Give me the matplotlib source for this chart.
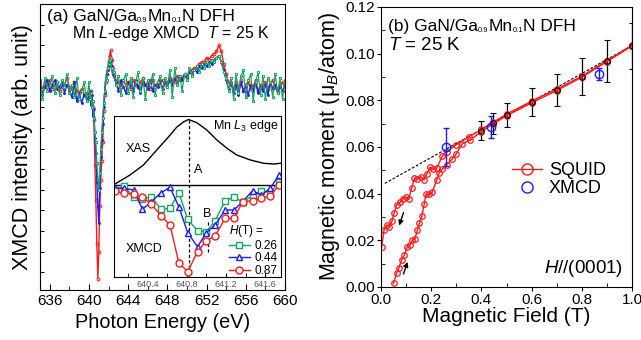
import numpy as np
import matplotlib
matplotlib.use('Agg')
import matplotlib.pyplot as plt
from matplotlib.ticker import MultipleLocator, FormatStrFormatter
from matplotlib.lines import Line2D

plt.rcParams['font.family'] = ['Liberation Sans', 'DejaVu Sans']
plt.rcParams['mathtext.fontset'] = 'custom'
plt.rcParams['mathtext.rm'] = 'Liberation Sans'
plt.rcParams['mathtext.it'] = 'Liberation Sans:italic'
plt.rcParams['mathtext.bf'] = 'Liberation Sans:bold'

# ---------------- data: panel (a) main XMCD spectra ----------------
energy = np.round(np.concatenate([np.arange(635.0, 640.0, 0.25),
                                  np.arange(640.0, 642.45, 0.1),
                                  np.arange(642.5, 660.01, 0.25)]), 2)
red_pre = [0.1, -0.1, 0.2, 0.0, 0.3, -0.1, 0.1, 0.2, -0.2, 0.0, 0.1, 0.4, 0.0, -0.1, 0.2, -0.2, -0.3, -0.1, -0.4, -0.3]
blue_pre = [0.2, -0.4, 0.0, 0.3, -0.2, 0.1, 0.3, -0.1, 0.0, 0.2, -0.3, 0.1, -0.2, -0.5, 0.2, -0.7, -0.3, -0.8, -0.4, -0.6]
green_pre = [0.3, -0.6, 0.4, -0.2, 0.1, 0.5, -0.3, 0.2, -0.4, 0.3, 0.0, 0.6, -0.3, 0.1, -0.5, 0.4, -0.6, -0.2, 0.2, -0.7]
red_edge = [-0.3, -0.5, -0.2, -0.8, -1.0, -1.6, -3.8, -5.5, -7.6, -9.3, -8.0, -5.8, -4.5, -3.6, -2.7, -1.2, -0.4, 0.2, 0.6, 0.9, 1.2, 1.5, 1.75, 1.3, 0.9]
blue_edge = [-0.5, -0.2, -0.9, -0.4, -1.4, -1.1, -2.5, -3.2, -4.6, -5.8, -6.6, -4.9, -3.4, -2.6, -1.8, -1.0, -0.3, 0.3, 0.6, 0.8, 1.0, 1.2, 1.3, 1.0, 0.6]
green_edge = [0.2, -0.6, -0.3, -1.0, -0.7, -1.5, -2.2, -2.7, -3.7, -4.4, -5.0, -4.2, -3.0, -2.2, -1.5, -0.8, -0.2, 0.4, 0.3, 0.9, 1.1, 1.3, 1.4, 0.9, 0.7]
red_post = [0.6, 0.3, 0.2, 0.0, 0.3, 0.1, 0.2, -0.1, 0.3, 0.1,
            0.0, 0.2, 0.4, 0.1, 0.2, -0.1, 0.3, 0.0, 0.2, 0.1,
            0.3, 0.1, 0.2, 0.4, 0.3, 0.2, 0.5, 0.3, 0.4, 0.6,
            0.5, 0.7, 0.8, 0.9, 0.9, 1.1, 1.2, 1.2, 1.4, 1.3,
            1.5, 1.6, 1.7, 2.0, 1.7, 1.1, 0.6, 0.2, 0.1, -0.1,
            0.2, 0.0, 0.3, -0.2, 0.1, 0.2, -0.1, 0.0, 0.3, -0.2,
            0.1, 0.0, 0.2, -0.1, 0.1, 0.3, 0.0, -0.2, 0.1, 0.2,
            0.0]
blue_post = [0.5, 0.2, -0.2, 0.3, 0.0, -0.3, 0.2, 0.1, -0.2, 0.3,
             0.0, -0.3, 0.2, 0.1, -0.1, 0.3, -0.2, 0.1, 0.0, 0.3,
             -0.1, 0.2, 0.0, 0.3, 0.1, 0.4, 0.2, 0.5, 0.3, 0.6,
             0.4, 0.7, 0.6, 0.8, 0.7, 1.0, 0.9, 1.1, 1.0, 1.2,
             1.1, 1.3, 1.4, 1.5, 1.2, 0.8, 0.3, -0.1, 0.2, -0.3,
             0.1, -0.4, 0.2, -0.2, 0.0, -0.4, 0.1, -0.2, 0.2, -0.3,
             0.0, -0.2, 0.1, -0.4, 0.2, -0.1, 0.1, -0.3, 0.0, -0.2,
             0.1]
green_post = [0.7, 0.1, 0.5, -0.4, 0.3, 0.6, -0.3, 0.4, -0.5, 0.2,
              0.7, -0.2, 0.4, -0.6, 0.3, 0.1, 0.6, -0.4, 0.2, 0.5,
              -0.3, 0.4, 0.0, 0.8, -0.5, 0.9, 0.1, 0.5, -0.2, 0.6,
              0.3, 0.9, 0.5, 0.8, 1.0, 0.7, 1.1, 0.9, 1.2, 1.0,
              1.3, 1.2, 1.4, 1.5, 1.2, 0.7, 0.4, -0.2, 0.4, -0.6,
              0.6, -0.3, 0.5, 0.8, -0.5, 0.3, 0.6, -0.7, 0.2, 0.7,
              -0.4, 0.5, -0.6, 0.4, 0.2, -0.5, 0.6, -0.3, 0.4, -0.6,
              0.3]
xmcd_087 = np.array(red_pre + red_edge + red_post)
xmcd_044 = np.array(blue_pre + blue_edge + blue_post)
xmcd_026 = np.array(green_pre + green_edge + green_post)

# ---------------- data: inset ----------------
xas_e = [640.07, 640.223, 640.36, 640.495, 640.614, 640.70, 640.767, 640.818, 640.903,
         641.005, 641.107, 641.21, 641.31, 641.448, 641.584, 641.686, 641.754]
xas_i = [1, 10, 20, 35, 48, 58, 63, 65.5, 62.3, 55, 45, 36.7, 30, 25, 21.7, 21, 21.7]
ins_e = [640.07, 640.16, 640.26, 640.35, 640.44, 640.54, 640.63, 640.72, 640.81, 640.91,
         641.00, 641.09, 641.19, 641.28, 641.37, 641.47, 641.56, 641.65, 641.74]
ins_026 = [-5, -1, -12.3, -14.3, -11.7, -24.3, -23.3, -7.7, -34.3, -45.7,
           -46.7, -36, -15.7, -12.3, -16.7, -11, -5.7, -7.7, 3.3]
ins_044 = [-3.3, -3.3, -5, -24.3, -16.7, -7.7, -2.3, -21.7, -47.7, -61.7,
           -47.7, -40, -25, -25, -16.7, -5.7, -10, -3.3, 10]
ins_087 = [-5.7, -8.3, -9, -12.3, -19, -31, -40, -77.7, -86.7, -66.7,
           -55.7, -51, -33.3, -33.3, -16.7, -15.7, -13.3, -11, 0]
field_labels = ['0.26', '0.44', '0.87']
peak_A = 640.82
peak_B = 641.02

# ---------------- data: panel (b) ----------------
h_down = [0.003, 0.012, 0.023, 0.033, 0.044, 0.052, 0.062, 0.076, 0.086, 0.100, 0.110,
          0.122, 0.133, 0.145, 0.158, 0.172, 0.182, 0.195, 0.206, 0.222, 0.244, 0.262,
          0.300, 0.350, 0.400, 0.447, 0.500, 0.600, 0.700, 0.800, 0.900, 1.000]
m_down = [0.0173, 0.0244, 0.0266, 0.0259, 0.0283, 0.0316, 0.0351, 0.0363, 0.0379, 0.0386, 0.0376,
          0.0423, 0.0466, 0.0463, 0.0473, 0.0459, 0.0484, 0.0513, 0.0504, 0.0509, 0.0561, 0.0578,
          0.0610, 0.0644, 0.0675, 0.0706, 0.0741, 0.0796, 0.0848, 0.0904, 0.0970, 0.1036]
h_up = [0.050, 0.062, 0.072, 0.082, 0.093, 0.105, 0.116, 0.125, 0.135, 0.145, 0.153,
        0.163, 0.172, 0.179, 0.193, 0.204, 0.222, 0.232, 0.244, 0.262, 0.282, 0.300,
        0.324, 0.355, 0.400, 0.447, 0.500, 0.600, 0.700, 0.800, 0.900, 1.000]
m_up = [0.0016, 0.0059, 0.0083, 0.0116, 0.0137, 0.0173, 0.0180, 0.0201, 0.0206, 0.0244, 0.0273,
        0.0304, 0.0354, 0.0397, 0.0397, 0.0406, 0.0459, 0.0490, 0.0505, 0.0525, 0.0547, 0.0571,
        0.0614, 0.0630, 0.0666, 0.0699, 0.0734, 0.0789, 0.0842, 0.0899, 0.0966, 0.1033]
h_err = [0.4, 0.447, 0.5, 0.6, 0.7, 0.8, 0.9, 1.0]
m_err = [0.0669, 0.0702, 0.0737, 0.0792, 0.0844, 0.0901, 0.0967, 0.1033]
e_err = [0.0041, 0.0045, 0.0050, 0.0060, 0.0070, 0.0080, 0.0090, 0.0100]
h_xmcd = [0.26, 0.44, 0.87]
m_xmcd = [0.0600, 0.0685, 0.0913]
e_xmcd = [0.0083, 0.0048, 0.0025]
fit_h = [0.015, 1.0]
fit_m = [0.0444, 0.1035]

RED = '#ff1a1a'
BLUE = '#1a1aff'
GREEN = '#12a85c'

fig = plt.figure(figsize=(6.41, 3.40), dpi=100)


def chain_text(ax, x, y, parts):
    t = ax.text(x, y, parts[0][0], transform=ax.transAxes, fontsize=parts[0][1],
                va='baseline', ha='left')
    prev = t
    for s, fs in parts[1:]:
        prev = ax.annotate(s, xy=(1, 0), xycoords=prev, fontsize=fs,
                           va='bottom', ha='left')
    return t


# ================= panel (a) =================
axa = fig.add_axes([40 / 641, 1 - 290 / 340, 245 / 641, 286 / 340])
axa.plot(energy, xmcd_087, '-', color=RED, lw=1.0, marker='o', ms=2.0, mfc='none', mew=0.7)
axa.plot(energy, xmcd_044, '-', color=BLUE, lw=1.0, marker='o', ms=1.4, mew=0.6)
axa.plot(energy, xmcd_026, '-', color=GREEN, lw=0.9, marker='s', ms=2.0, mfc='white', mew=0.7)
axa.set_xlim(635, 660)
axa.set_ylim(-9.85, 4.0)
axa.xaxis.set_major_locator(MultipleLocator(4))
axa.xaxis.set_minor_locator(MultipleLocator(2))
axa.yaxis.set_major_locator(MultipleLocator(1))
axa.tick_params(axis='both', which='both', direction='in', labelsize=11)
axa.tick_params(axis='x', which='major', length=4, pad=3)
axa.tick_params(axis='x', which='minor', length=3)
axa.tick_params(axis='y', which='major', length=3, labelleft=False)
axa.set_xlabel('Photon Energy (eV)', fontsize=14.3)
axa.set_ylabel('XMCD intensity (arb. unit)', fontsize=15.5)
axa.yaxis.set_label_coords(-0.03, 0.5)
axa.xaxis.set_label_coords(0.5, -0.079)
chain_text(axa, 0.029, 0.942, [('(a) GaN/Ga', 12.5), ('0.9', 5.5), ('Mn', 12.5), ('0.1', 5.5), ('N DFH', 12.5)])
axa.text(0.13, 0.88, r'Mn $L$-edge XMCD  $T$ = 25 K', transform=axa.transAxes,
         fontsize=11.4, va='baseline', ha='left')

# ---------------- inset ----------------
axi = fig.add_axes([114 / 641, 1 - 277 / 340, 167 / 641, 161 / 340])
axi.set_xlim(640.06, 641.76)
axi.set_ylim(-92, 69)
axi.axhline(0, color='k', lw=1.0)
axi.plot(xas_e, xas_i, '-', color='k', lw=1.0)
axi.plot([peak_A, peak_A], [xas_i[7], -92], color='k', lw=0.9, ls=(0, (2.5, 1.8)))
axi.plot([peak_B, peak_B], [-37, -67], color='k', lw=0.9, ls=(0, (2.5, 1.8)))
l1, = axi.plot(ins_e, ins_026, '-', color=GREEN, lw=1.0, marker='s', ms=5, mfc='white', mew=1.0)
l2, = axi.plot(ins_e, ins_044, '-', color=BLUE, lw=1.0, marker='^', ms=5, mfc='white', mew=1.0)
l3, = axi.plot(ins_e, ins_087, '-', color=RED, lw=1.0, marker='o', ms=5, mfc='white', mew=1.0)
axi.set_yticks([])
axi.xaxis.set_minor_locator(MultipleLocator(0.2))
axi.set_xticks([640.4, 640.8, 641.2, 641.6])
axi.set_xticklabels(['640.4', '640.8', '641.2', '641.6'])
axi.tick_params(axis='x', which='both', direction='in', labelsize=6.5, labelcolor='#555555', pad=2, length=3)
axi.text(640.31, 35.7, 'XAS', fontsize=9, ha='center', va='center')
axi.text(641.07, 59.3, r'Mn $L_3$ edge', fontsize=9, ha='left', va='center')
axi.text(640.92, 15, 'A', fontsize=9, ha='center', va='center')
axi.text(641.005, -29, 'B', fontsize=9, ha='center', va='center')
axi.text(640.37, -64.3, 'XMCD', fontsize=9, ha='center', va='center')
leg = axi.legend([l1, l2, l3], field_labels, title=r'$H$(T) =', loc='lower left',
                 bbox_to_anchor=(0.688, 0.0), frameon=False, fontsize=8.5, title_fontsize=8.5,
                 handlelength=1.75, handletextpad=0.4, labelspacing=0.05, borderpad=0.0,
                 borderaxespad=0.0, alignment='left')

# ================= panel (b) =================
axb = fig.add_axes([381 / 641, 1 - 287 / 340, 251 / 641, 280 / 340])
axb.plot(fit_h, fit_m, color='k', lw=0.8, ls=(0, (2.5, 1.5)))
axb.errorbar(h_err, m_err, yerr=e_err, fmt='o', color='k', ms=4, mfc='none', mew=0.8,
             elinewidth=0.9, capsize=2.5, capthick=0.9)
axb.plot(h_down, m_down, '-', color=RED, lw=1.0, marker='o', ms=4, mfc='none', mew=0.9)
axb.plot(h_up, m_up, '-', color=RED, lw=1.0, marker='o', ms=4, mfc='none', mew=0.9)
axb.errorbar(h_xmcd, m_xmcd, yerr=e_xmcd, fmt='o', color=BLUE, ms=6, mfc='none', mew=1.0,
             elinewidth=1.0, capsize=2.5, capthick=1.0)
axb.annotate('', xy=(0.069, 0.0252), xytext=(0.093, 0.0330),
             arrowprops=dict(arrowstyle='-|>', color='k', lw=1.0, mutation_scale=7))
axb.annotate('', xy=(0.109, 0.0119), xytext=(0.086, 0.0044),
             arrowprops=dict(arrowstyle='-|>', color='k', lw=1.0, mutation_scale=7))
axb.set_xlim(0, 1.0)
axb.set_ylim(0, 0.12)
axb.xaxis.set_major_locator(MultipleLocator(0.2))
axb.xaxis.set_minor_locator(MultipleLocator(0.1))
axb.yaxis.set_major_locator(MultipleLocator(0.02))
axb.yaxis.set_minor_locator(MultipleLocator(0.01))
axb.xaxis.set_major_formatter(FormatStrFormatter('%.1f'))
axb.yaxis.set_major_formatter(FormatStrFormatter('%.2f'))
axb.tick_params(axis='both', which='major', direction='out', length=3, labelsize=11, pad=1.5)
axb.tick_params(axis='both', which='minor', direction='in', length=3)
axb.set_xlabel('Magnetic Field (T)', fontsize=15)
axb.set_ylabel('Magnetic moment (μ$_{B}$/atom)', fontsize=15.5)
axb.yaxis.set_label_coords(-0.155, 0.5)
axb.xaxis.set_label_coords(0.5, -0.073)
chain_text(axb, 0.028, 0.915, [('(b) GaN/Ga', 12.5), ('0.9', 5.5), ('Mn', 12.5), ('0.1', 5.5), ('N DFH', 12.5)])
axb.text(0.028, 0.846, r'$T$ = 25 K', transform=axb.transAxes, fontsize=13.5,
         va='baseline', ha='left')
axb.text(0.965, 0.049, r'$\mathit{H//}$(0001)', transform=axb.transAxes, fontsize=13.5,
         va='baseline', ha='right')
hs = Line2D([], [], color=RED, lw=1.0, marker='o', ms=8, mfc='none', mew=1.0)
hx = Line2D([], [], color=BLUE, lw=0, marker='o', ms=8, mfc='none', mew=1.0)
axb.legend([hs, hx], ['SQUID', 'XMCD'], loc='upper left', bbox_to_anchor=(0.522, 0.446),
           frameon=False, fontsize=13, handlelength=1.65, handletextpad=0.4,
           labelspacing=0.05, borderpad=0.0, borderaxespad=0.0)

fig.savefig('out.png', dpi=100)
